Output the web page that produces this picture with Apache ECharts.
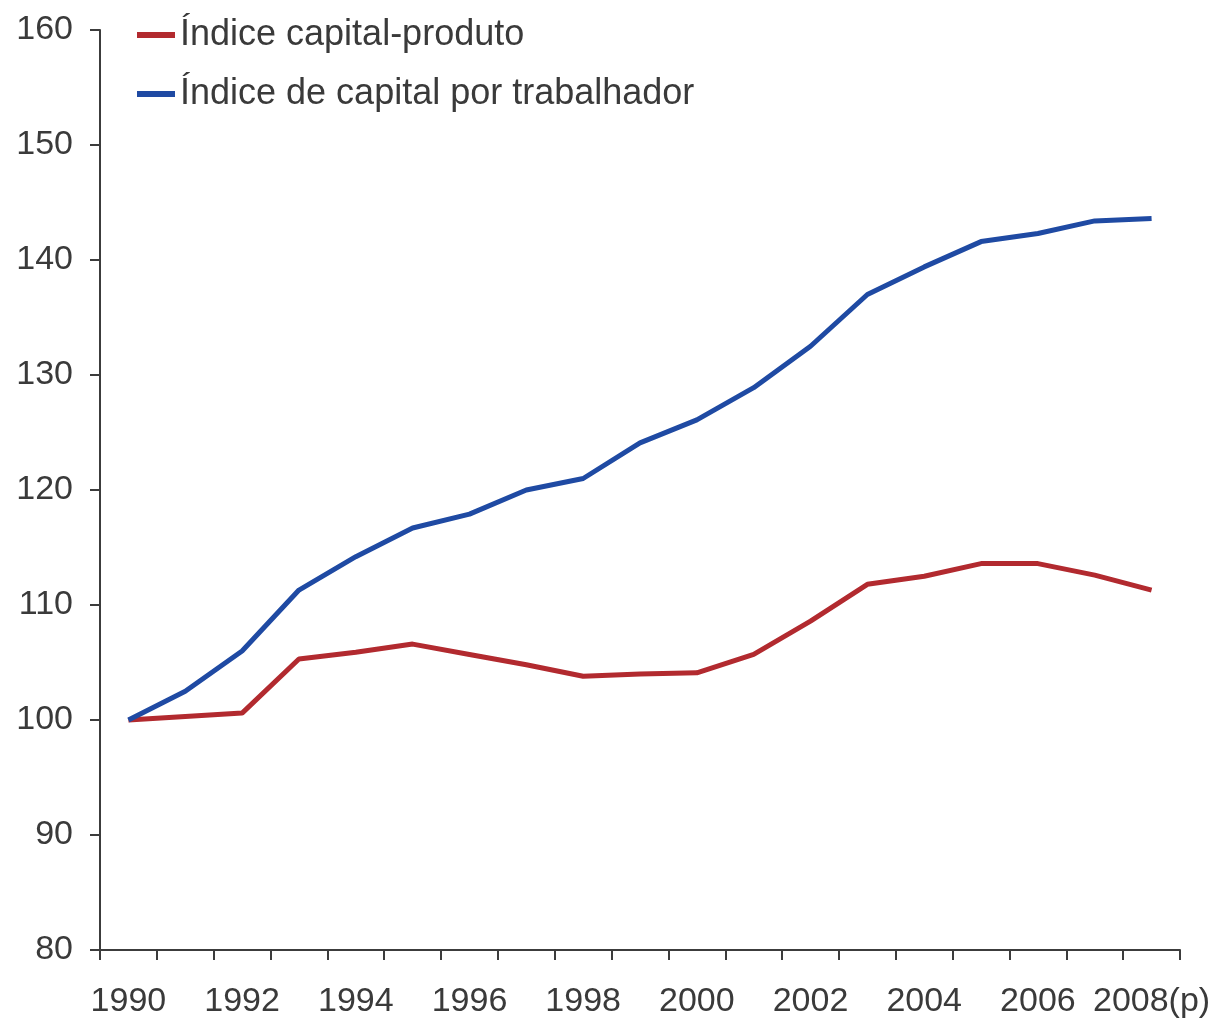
<!DOCTYPE html>
<html>
<head>
<meta charset="utf-8">
<script src="https://cdn.jsdelivr.net/npm/echarts@6/dist/echarts.min.js"></script>
<style>html,body{margin:0;padding:0;background:#fff}#c{width:1218px;height:1020px}</style>
</head>
<body>
<div id="c"></div>
<script>
const years = ['1990','1991','1992','1993','1994','1995','1996','1997','1998','1999','2000','2001','2002','2003','2004','2005','2006','2007','2008(p)'];
const seriesNames = ['Índice capital-produto', 'Índice de capital por trabalhador'];
const capitalProduto = [100, 100.3, 100.6, 105.3, 105.9, 106.6, 105.7, 104.8, 103.8, 104.0, 104.1, 105.7, 108.6, 111.8, 112.5, 113.6, 113.6, 112.6, 111.3];
const capitalTrabalhador = [100, 102.5, 106.0, 111.3, 114.2, 116.7, 117.9, 120.0, 121.0, 124.1, 126.1, 128.9, 132.5, 137.0, 139.4, 141.6, 142.3, 143.4, 143.6];
const yTicks = {min: 80, max: 160, interval: 10};

const chart = echarts.init(document.getElementById('c'), null, {renderer: 'canvas'});
const font = 'Liberation Sans, Arial, sans-serif';
const axisColor = '#3c3c3c';
chart.setOption({
  animation: false,
  backgroundColor: '#fff',
  textStyle: {fontFamily: font},
  grid: {left: 100, right: 38, top: 30, bottom: 70, containLabel: false},
  legend: {
    orient: 'vertical', left: 132, top: 12,
    itemWidth: 38, itemHeight: 6, itemGap: 23,
    icon: 'rect',
    textStyle: {fontSize: 36, color: '#3a3a3a', fontFamily: font},
    data: seriesNames
  },
  xAxis: {
    type: 'category', data: years, boundaryGap: true,
    axisLine: {lineStyle: {color: axisColor, width: 2}},
    axisTick: {show: true, interval: 0, length: 10, lineStyle: {color: axisColor, width: 2}},
    axisLabel: {interval: 1, fontSize: 34, color: '#3a3a3a', margin: 35, fontFamily: font},
    splitLine: {show: false}
  },
  yAxis: {
    type: 'value', min: yTicks.min, max: yTicks.max, interval: yTicks.interval,
    axisLine: {show: true, lineStyle: {color: axisColor, width: 2}},
    axisTick: {show: true, length: 10, lineStyle: {color: axisColor, width: 2}},
    axisLabel: {fontSize: 34, color: '#3a3a3a', margin: 27, fontFamily: font},
    splitLine: {show: false}
  },
  series: [
    {name: seriesNames[0], type: 'line', data: capitalProduto, symbol: 'none',
     lineStyle: {color: '#b22a2f', width: 5}, itemStyle: {color: '#b22a2f'}},
    {name: seriesNames[1], type: 'line', data: capitalTrabalhador, symbol: 'none',
     lineStyle: {color: '#1f4aa3', width: 5}, itemStyle: {color: '#1f4aa3'}}
  ]
});
</script>
</body>
</html>
